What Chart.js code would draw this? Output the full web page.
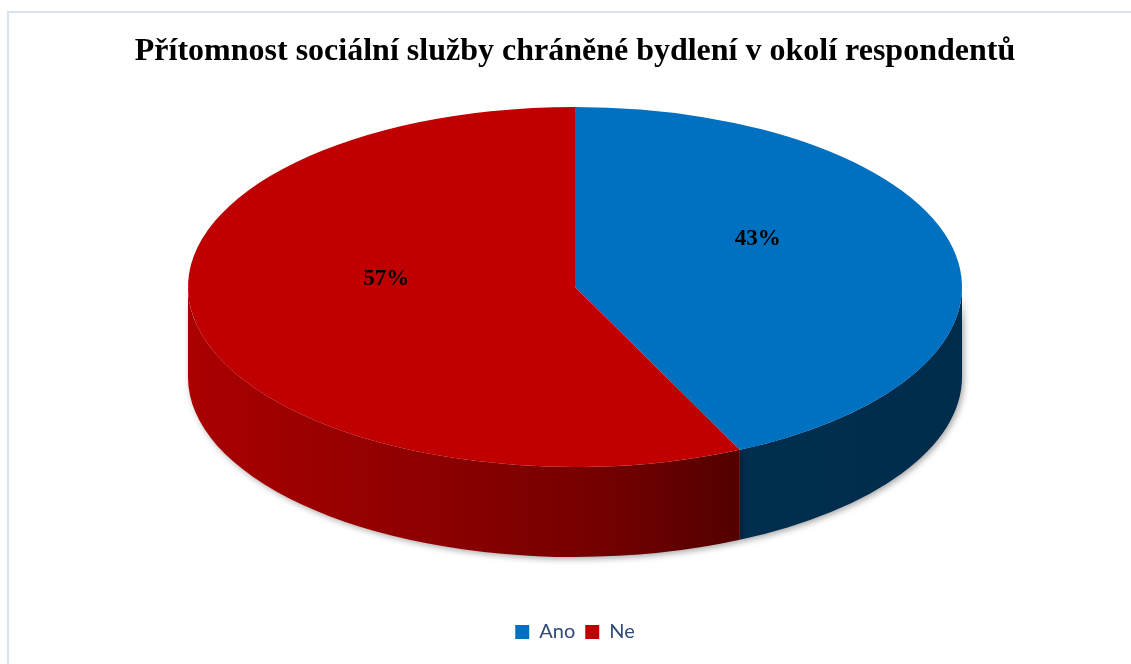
<!DOCTYPE html>
<html>
<head>
<meta charset="utf-8">
<script src="https://cdn.jsdelivr.net/npm/chart.js@4/dist/chart.umd.min.js"></script>
<style>
  html, body { margin: 0; background: #fff; }
  #wrap { position: relative; width: 1131px; height: 664px; overflow: hidden; }
  #frame { position: absolute; left: 7px; top: 11px; right: -5px; bottom: -5px;
           border-top: 2px solid #d6e3f3; border-left: 2px solid #d6e3f3; }
  canvas { position: absolute; left: 0; top: 0; }
</style>
</head>
<body>
<div id="wrap">
  <div id="frame"></div>
  <canvas id="pie" width="1131" height="664"></canvas>
</div>
<script>
const categories = ['Ano', 'Ne'];
const shares = [43, 57];
const topColors = ['#0070c0', '#c00000'];

// fake 3d: top face squashed vertically, side wall drawn underneath
const tilt = 180 / 387;
const depth = 90;

function pieFrame(chart) {
  const arc = chart.getDatasetMeta(0).data[0];
  const r = arc.outerRadius;
  return { cx: arc.x, cy: arc.y, r, ry: r * tilt, ey: chart.chartArea.top + r * tilt };
}

function wallFill(ctx, f, i) {
  const g = ctx.createLinearGradient(f.cx - f.r, 0, f.cx + f.r, 0);
  if (i === 1) {
    g.addColorStop(0, '#aa0000');
    g.addColorStop(0.3, '#8e0000');
    g.addColorStop(0.55, '#720000');
    g.addColorStop(0.75, '#4a0000');
    g.addColorStop(1, '#400000');
  } else {
    g.addColorStop(0, '#003458');
    g.addColorStop(1, '#002c4c');
  }
  return g;
}

const pie3d = {
  id: 'pie3d',
  beforeDatasetsDraw(chart) {
    const ctx = chart.ctx;
    const f = pieFrame(chart);
    chart.getDatasetMeta(0).data.forEach((arc, i) => {
      const a0 = Math.max(arc.startAngle, 0);
      const a1 = Math.min(arc.endAngle, Math.PI);
      if (a1 <= a0) return;
      ctx.save();
      ctx.beginPath();
      ctx.ellipse(f.cx, f.ey, f.r, f.ry, 0, a0, a1);
      ctx.ellipse(f.cx, f.ey + depth, f.r, f.ry, 0, a1, a0, true);
      ctx.closePath();
      ctx.shadowColor = 'rgba(0,0,0,0.35)';
      ctx.shadowBlur = 6;
      ctx.shadowOffsetX = 2;
      ctx.shadowOffsetY = 2;
      ctx.fillStyle = wallFill(ctx, f, i);
      ctx.fill();
      ctx.restore();
    });
    ctx.save();
    ctx.translate(f.cx, f.ey);
    ctx.scale(1, tilt);
    ctx.translate(-f.cx, -f.cy);
  },
  afterDatasetsDraw(chart) {
    const ctx = chart.ctx;
    ctx.restore();
    const f = pieFrame(chart);
    const total = shares.reduce((a, b) => a + b, 0);
    ctx.save();
    ctx.font = 'bold 23px "Liberation Serif", "Times New Roman", serif';
    ctx.fillStyle = '#000';
    ctx.textAlign = 'center';
    ctx.textBaseline = 'middle';
    chart.getDatasetMeta(0).data.forEach((arc, i) => {
      const mid = (arc.startAngle + arc.endAngle) / 2;
      const x = f.cx + f.r / 2 * Math.cos(mid) - (i === 0 ? 6 : 0);
      const y = f.ey + f.ry / 2 * Math.sin(mid) - 28;
      ctx.fillText(Math.round(shares[i] / total * 100) + '%', x, y);
    });
    ctx.restore();
  }
};

new Chart(document.getElementById('pie'), {
  type: 'pie',
  data: {
    labels: categories,
    datasets: [{
      data: shares,
      backgroundColor: topColors,
      borderWidth: 0,
      radius: 387,
      clip: false
    }]
  },
  options: {
    responsive: false,
    animation: false,
    layout: { padding: { left: 19, right: 0, top: 0, bottom: 12 } },
    plugins: {
      title: {
        display: true,
        text: 'Přítomnost sociální služby chráněné bydlení v okolí respondentů',
        color: '#000',
        font: { family: '"Liberation Serif", "Times New Roman", serif', size: 32, weight: 'bold' },
        padding: { top: 33, bottom: 35.6 }
      },
      legend: {
        position: 'bottom',
        labels: {
          color: '#2f4a78',
          font: { family: 'Lato, "Open Sans", sans-serif', size: 20 },
          boxWidth: 14,
          boxHeight: 14,
          padding: 10
        }
      },
      tooltip: { enabled: false }
    }
  },
  plugins: [pie3d]
});
</script>
</body>
</html>
